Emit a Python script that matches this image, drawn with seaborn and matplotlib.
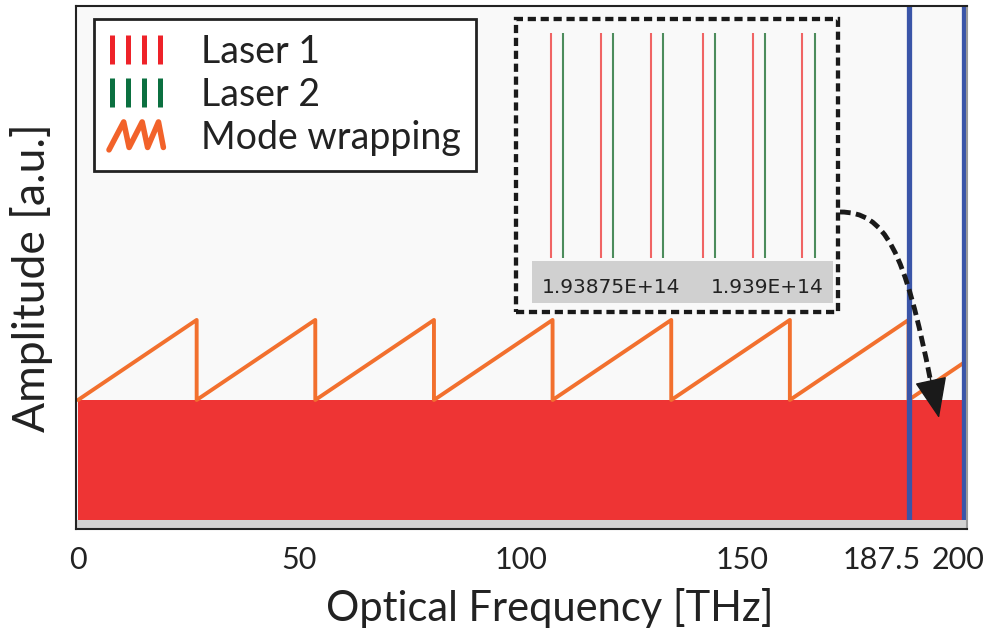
import numpy as np
import pandas as pd
import matplotlib
matplotlib.use("Agg")
import matplotlib.pyplot as plt
import seaborn as sns
from matplotlib.lines import Line2D
from matplotlib.patches import Rectangle, PathPatch, FancyArrowPatch
from matplotlib.path import Path
from matplotlib.legend_handler import HandlerBase
import matplotlib.transforms as mtransforms

# ---------------- data ----------------
# comb (dense laser lines) – appears as a filled band of amplitude 1
comb_x = [0.0, 200.0]
comb_amp = [1.0, 1.0]

# mode wrapping sawtooth (THz, a.u.)
saw_x = [0.0, 26.79, 26.79, 53.57, 53.57, 80.36, 80.36, 107.14, 107.14,
         133.93, 133.93, 160.71, 160.71, 187.5, 187.5, 200.0]
saw_y = [1.0, 1.667, 1.0, 1.667, 1.0, 1.667, 1.0, 1.667, 1.0,
         1.667, 1.0, 1.667, 1.0, 1.667, 1.0, 1.311]

# band edges (THz)
band_edges = [187.5, 200.0]

x_ticks = [0, 50, 100, 150, 187.5, 200]
x_ticklabels = ["0", "50", "100", "150", "187.5", "200"]

# inset: individual laser lines (THz)
laser1_thz = [193.8654, 193.8734, 193.8814, 193.8897, 193.8977, 193.9057]
laser2_thz = [193.8673, 193.8753, 193.8833, 193.8916, 193.8997, 193.9077]
inset_ticks_hz = [1.93875e14, 1.939e14]
inset_ticklabels = ["1.93875E+14", "1.939E+14"]

legend_labels = ["Laser 1", "Laser 2", "Mode wrapping"]

# ---------------- style ----------------
sns.set_theme(style="white")
plt.rcParams["font.family"] = ["Lato", "DejaVu Sans"]
plt.rcParams["font.weight"] = "normal"

W, H = 994, 632
fig = plt.figure(figsize=(W / 100, H / 100), dpi=100)
fig.patch.set_facecolor("white")
# transform using reference pixel coordinates (origin top-left)
px = mtransforms.Affine2D().scale(1 / W, -1 / H).translate(0, 1) + fig.transFigure

def px_axes(x0, y0, x1, y1):
    return fig.add_axes([x0 / W, 1 - y1 / H, (x1 - x0) / W, (y1 - y0) / H])

ax = px_axes(76, 6, 967, 529)
ax.set_facecolor("#F9F9F9")

RED = "#EE3434"
ORANGE = "#F2702E"
BLUE = "#3A55A8"
TXT = "#222222"

ax.fill_between(comb_x, 0, comb_amp, color=RED, lw=0, zorder=2)
sns.lineplot(x=saw_x, y=saw_y, estimator=None, sort=False, color=ORANGE,
             lw=2.8, ax=ax, zorder=3)
for xe in band_edges:
    ax.axvline(xe, color=BLUE, lw=3.8, zorder=4)

ax.set_xlim(-0.45, 200.7)
ax.set_ylim(-0.075, 4.283)
# gray strip at bottom of plot area
ax.add_patch(Rectangle((0, 0), 1, 0.0172, transform=ax.transAxes,
                       facecolor="#D2D2D2", edgecolor="none", zorder=5))

ax.set_xticks(x_ticks)
ax.set_xticklabels(x_ticklabels)
ax.set_yticks([])
ax.tick_params(axis="x", direction="in", length=4, width=1.5, color="#333333",
               pad=12, labelsize=22, labelcolor=TXT)
for t in ax.xaxis.get_major_ticks():
    t.tick1line.set_zorder(6)
# nudge the two crowded right-hand labels like the reference
offsets = {"187.5": -27, "200": -6}
for lab in ax.get_xticklabels():
    dx = offsets.get(lab.get_text(), 0)
    if dx:
        lab.set_transform(lab.get_transform() +
                          mtransforms.ScaledTranslation(dx / 100, 0, fig.dpi_scale_trans))
ax.set_xlabel("Optical Frequency [THz]", fontsize=30, color=TXT)
ax.set_ylabel("Amplitude [a.u.]", fontsize=32, color=TXT)
ax.xaxis.set_label_coords((550 - 76) / 891, -0.112)
ax.yaxis.set_label_coords(-0.026, (529 - 278) / 523)
for s in ["left", "top", "bottom"]:
    ax.spines[s].set_color(TXT)
    ax.spines[s].set_linewidth(1.5)
ax.spines["right"].set_color("#9A9A9A")
ax.spines["right"].set_linewidth(1.5)
for s in ax.spines.values():
    s.set_zorder(7)

# ---------------- legend ----------------
class BarsHandler(HandlerBase):
    def __init__(self, color):
        super().__init__()
        self.color = color

    def create_artists(self, legend, orig_handle, xdescent, ydescent, width,
                       height, fontsize, trans):
        arts = []
        n = 4
        for i in range(n):
            xx = -xdescent + width * (0.06 + 0.88 * i / (n - 1))
            ln = Line2D([xx, xx], [-ydescent - 0.1 * height, -ydescent + 1.1 * height],
                        color=self.color, lw=3.6, solid_capstyle="butt", transform=trans)
            arts.append(ln)
        return arts


class ZigHandler(HandlerBase):
    def __init__(self, color):
        super().__init__()
        self.color = color

    def create_artists(self, legend, orig_handle, xdescent, ydescent, width,
                       height, fontsize, trans):
        fx = [0.0, 0.27, 0.37, 0.61, 0.71, 0.91, 1.0]
        fy = [-0.1, 1.05, 0.0, 1.05, 0.0, 1.05, 0.0]
        xs = [-xdescent + width * v for v in fx]
        ys = [-ydescent + height * v for v in fy]
        ln = Line2D(xs, ys, color=self.color, lw=4.0, solid_capstyle="round",
                    solid_joinstyle="round", transform=trans)
        return [ln]


h1 = Line2D([], [], color="#EE2229")
h2 = Line2D([], [], color="#0B7040")
h3 = Line2D([], [], color="#F2622A")
leg = ax.legend([h1, h2, h3], legend_labels,
                handler_map={h1: BarsHandler("#EE2229"), h2: BarsHandler("#0B7040"),
                             h3: ZigHandler("#F2622A")},
                loc="upper left", bbox_to_anchor=(94 / W, 1 - 19 / H),
                bbox_transform=fig.transFigure, borderaxespad=0,
                fontsize=27, frameon=True, fancybox=False, framealpha=1,
                handlelength=1.45, handleheight=0.62, handletextpad=1.0,
                labelspacing=0.18, borderpad=0.4)
leg.get_frame().set_edgecolor(TXT)
leg.get_frame().set_linewidth(2)
leg.get_frame().set_facecolor("white")
for t in leg.get_texts():
    t.set_color(TXT)
leg.set_zorder(10)

# ---------------- inset ----------------
axi = px_axes(532, 28, 833, 261)
axi.set_facecolor("#F9F9F9")
axi.vlines([v * 1e12 for v in laser1_thz], 0.013, 0.979, color="#F06464", lw=1.5)
axi.vlines([v * 1e12 for v in laser2_thz], 0.013, 0.979, color="#4C8C5C", lw=1.5)
axi.set_xlim(1.938623e14, 1.939106e14)
axi.set_ylim(0, 1)
axi.set_yticks([])
axi.set_xticks(inset_ticks_hz)
axi.set_xticklabels(inset_ticklabels)
axi.tick_params(axis="x", direction="out", length=6, width=1.4, color=TXT,
                pad=6, labelsize=14.5, labelcolor=TXT)
for lab in axi.get_xticklabels():
    lab.set_family(["DejaVu Sans"])
for s in axi.spines.values():
    s.set_visible(False)
axi.add_patch(Rectangle((0, -0.18), 1, 0.18, transform=axi.transAxes,
                        facecolor="#D0D0D0", edgecolor="none", clip_on=False, zorder=0))
axi.add_patch(Rectangle((-0.053, -0.219), 1.0696, 1.2576, transform=axi.transAxes,
                        fill=False, edgecolor="#1A1A1A", lw=3.1,
                        linestyle=(0, (1.9, 1.1)), clip_on=False, zorder=10))

# ---------------- arrow (inset -> band), in reference pixel coords ----------------
curve = Path([(840, 212), (885, 212), (905, 250), (931, 383)],
             [Path.MOVETO, Path.CURVE4, Path.CURVE4, Path.CURVE4])
fig.add_artist(PathPatch(curve, transform=px, fill=False, edgecolor="#1A1A1A",
                         lw=3.5, linestyle=(0, (2.2, 1.1)), capstyle="butt", zorder=20))
fig.add_artist(FancyArrowPatch(posA=(929, 372), posB=(939, 418), transform=px,
                               arrowstyle="-|>,head_length=2.6,head_width=1.05",
                               mutation_scale=10, color="#1A1A1A", lw=1,
                               shrinkA=0, shrinkB=0, zorder=21))

fig.savefig("out.png", dpi=100, facecolor="white")
